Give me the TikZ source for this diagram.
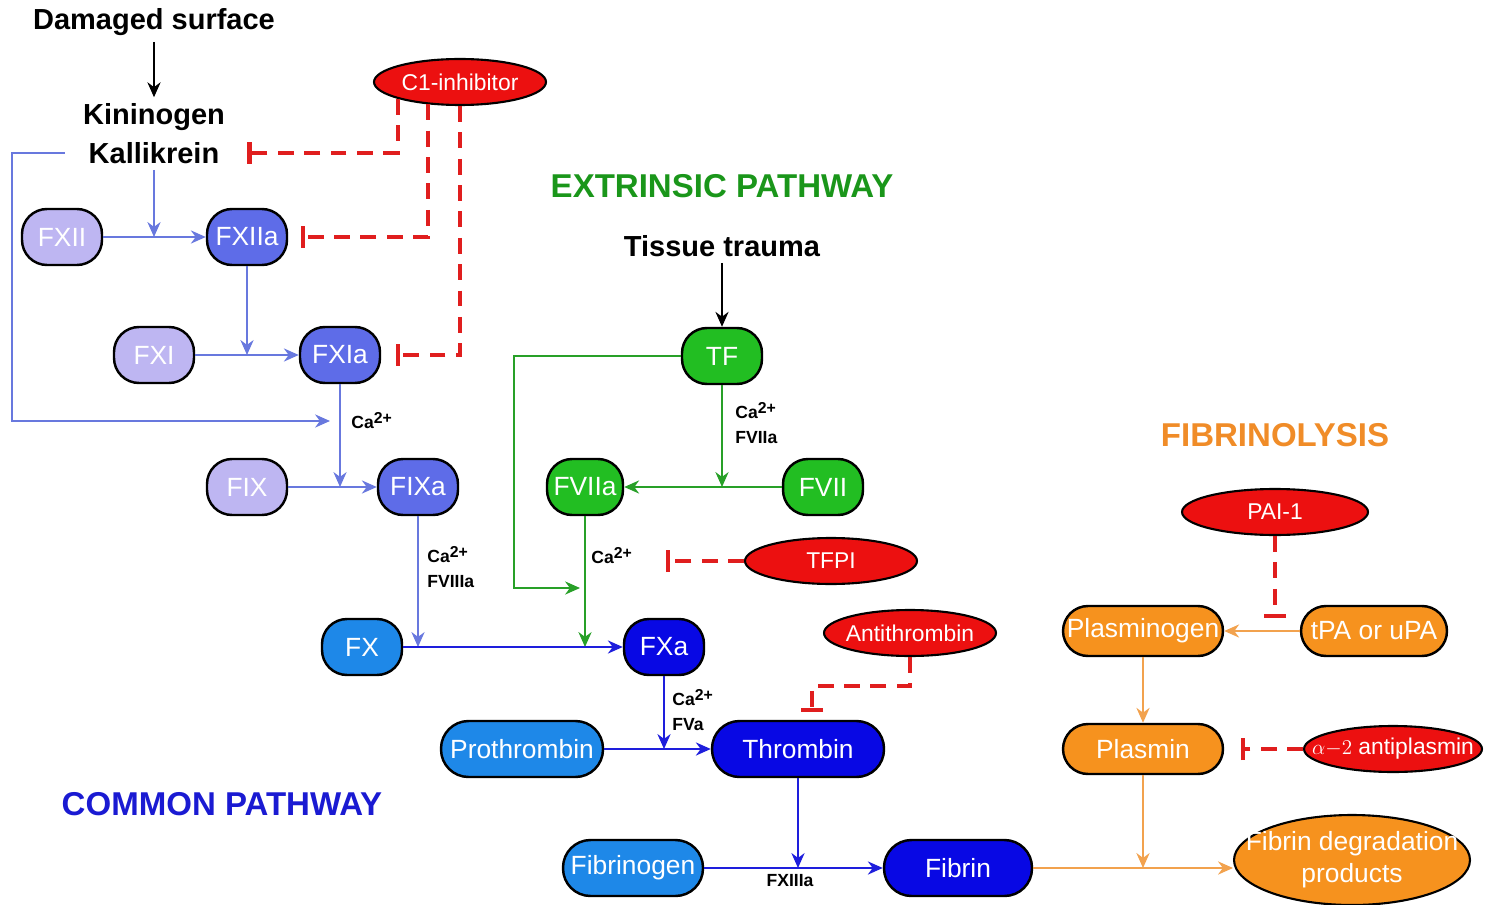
\documentclass[tikz,border=0pt]{standalone}
\usepackage{fontspec}
\setmainfont{Liberation Sans}
\usepackage{xcolor}
\usepackage{tikz}
\usetikzlibrary{arrows.meta}
\usetikzlibrary{shapes.geometric}
\usetikzlibrary{positioning}
\definecolor{lilas}{RGB}{190,182,242}
\definecolor{azulmed}{RGB}{94,108,232}
\definecolor{linhaint}{RGB}{104,120,222}
\definecolor{azulfx}{RGB}{30,136,232}
\definecolor{azulesc}{RGB}{8,8,228}
\definecolor{linhacom}{RGB}{30,30,220}
\definecolor{titazul}{RGB}{26,26,210}
\definecolor{verde}{RGB}{34,190,34}
\definecolor{linhaverde}{RGB}{40,160,40}
\definecolor{titverde}{RGB}{26,150,26}
\definecolor{laranja}{RGB}{246,146,30}
\definecolor{linhalar}{RGB}{242,162,78}
\definecolor{titlar}{RGB}{240,140,40}
\definecolor{vermelho}{RGB}{236,16,16}
\definecolor{tracejado}{RGB}{224,30,30}
\newcommand{\encaixa}[1]{\makebox[0pt]{#1}}
\newcommand{\calcio}{Ca\raisebox{0.55ex}{\fontsize{9}{9}\selectfont 2+}}
\tikzset{
  fator/.style={draw, line width=1.4pt, rounded corners=0.5cm, minimum width=#1, minimum height=1.12cm, inner sep=1pt, text=white, font=\fontsize{15}{18}\selectfont},
  fator/.default=1.6cm,
  fibrino/.style={fator=#1, fill=laranja, minimum height=1.0cm, rounded corners=0.5cm},
  inibidor/.style={draw, ellipse, line width=1.2pt, fill=vermelho, minimum width=#1, minimum height=0.92cm, inner sep=0pt, text=white, font=\fontsize{13}{15}\selectfont},
  seta/.style={-{Stealth[length=8.5pt, width=7.5pt]}, line width=1.1pt},
  bloqueio/.style={-{Bar[width=0.44cm]}, draw=tracejado, line width=2.3pt, dash pattern=on 9pt off 6pt},
  rotulo/.style={font=\bfseries\fontsize{10}{14}\selectfont, align=left, inner sep=0pt},
  titulo/.style={font=\bfseries\fontsize{18.8}{22}\selectfont},
  texto/.style={font=\bfseries\fontsize{16.5}{19}\selectfont},
}

\begin{document}
\begin{tikzpicture}[x=0.02cm, y=-0.02cm]
  \useasboundingbox (0,0) rectangle (1486,905);
  % intrinsic pathway
  \node[texto] (dano) at (154,22) {Damaged surface};
  \node[texto] (kin) at (154,117) {Kininogen};
  \node[texto] (kal) at (154,153) {Kallikrein};
  \node[fator, fill=lilas] (FXII) at (62,237) {FXII};
  \node[fator, fill=azulmed] (FXIIa) at (247,237) {FXIIa};
  \node[fator, fill=lilas] (FXI) at (154,355) {FXI};
  \node[fator, fill=azulmed] (FXIa) at (340,355) {FXIa};
  \node[fator, fill=lilas] (FIX) at (247,487) {FIX};
  \node[fator, fill=azulmed] (FIXa) at (418,487) {FIXa};
  \node[inibidor=3.44cm] (C1) at (460,82) {\encaixa{C1-inhibitor}};
  \node[rotulo, anchor=west] (caXI) at (351,421) {\calcio};
  \node[rotulo, anchor=west] (caIX) at (427,567) {\calcio\\FVIIIa};
  \coordinate (jI) at (330,421);
  \draw[seta] (dano) -- (kin);
  \draw[seta, linhaint] (kal) -- (kal |- FXII);
  \draw[seta, linhaint] (FXII) -- (FXIIa);
  \draw[seta, linhaint] (FXIIa) -- (FXIIa |- FXI);
  \draw[seta, linhaint] (FXI) -- (FXIa);
  \draw[seta, linhaint] ([xshift=-0.36cm]kal.west) -- ++(-53,0) |- (jI);
  \draw[seta, linhaint] (FXIa) -- (FXIa |- FIX);
  \draw[seta, linhaint] (FIX) -- (FIXa);
  \draw[bloqueio] (C1.195) |- ([xshift=0.44cm]kal.east);
  \draw[bloqueio] (C1.215) |- ([xshift=0.26cm]FXIIa.east);
  \draw[bloqueio] (C1.south) |- ([xshift=0.3cm]FXIa.east);
  % extrinsic pathway
  \node[titulo, text=titverde] (ext) at (722,186) {EXTRINSIC PATHWAY};
  \node[texto] (trauma) at (722,246) {Tissue trauma};
  \node[fator, fill=verde] (TF) at (722,356) {TF};
  \node[fator, fill=verde] (FVII) at (823,487) {FVII};
  \node[fator=1.52cm, fill=verde] (FVIIa) at (585,487) {FVIIa};
  \node[inibidor=3.44cm] (TFPI) at (831,561) {\encaixa{TFPI}};
  \node[rotulo, anchor=west] (caTF) at (735,423) {\calcio\\FVIIa};
  \node[rotulo, anchor=west] (caVII) at (591,556) {\calcio};
  \coordinate (jE) at (580,588);
  \coordinate (alvoTFPI) at (666,561);
  \draw[seta] (trauma) -- (TF);
  \draw[seta, linhaverde] (TF) -- (TF |- FVII);
  \draw[seta, linhaverde] (FVII) -- (FVIIa);
  \draw[seta, linhaverde] (TF.west) -- ++(-167,0) |- (jE);
  \draw[bloqueio] (TFPI) -- (alvoTFPI);
  % common pathway
  \node[titulo, text=titazul] (com) at (222,804) {COMMON PATHWAY};
  \node[fator, fill=azulfx] (FX) at (362,647) {FX};
  \node[fator, fill=azulesc] (FXa) at (664,647) {FXa};
  \node[fator=3.24cm, rounded corners=0.55cm, fill=azulfx] (proth) at (522,749) {Prothrombin};
  \node[fator=3.44cm, rounded corners=0.55cm, fill=azulesc] (thromb) at (798,749) {Thrombin};
  \node[fator=2.8cm, rounded corners=0.55cm, fill=azulfx] (fibrinog) at (633,868) {Fibrinogen};
  \node[fator=2.96cm, rounded corners=0.55cm, fill=azulesc] (fibrin) at (958,868) {Fibrin};
  \node[inibidor=3.44cm] (AT) at (910,633) {\encaixa{Antithrombin}};
  \node[rotulo, anchor=west] (caXa) at (672,710) {\calcio\\FVa};
  \node[rotulo] (fxiii) at (790,881) {FXIIIa};
  \draw[seta, linhaint] (FIXa) -- (FIXa |- FX);
  \draw[seta, linhaverde] (FVIIa) -- (FVIIa |- FXa);
  \draw[seta, linhacom] (FX) -- (FXa);
  \draw[seta, linhacom] (FXa) -- (FXa |- thromb);
  \draw[seta, linhacom] (proth) -- (thromb);
  \draw[seta, linhacom] (thromb) -- (thromb |- fibrin);
  \draw[seta, linhacom] (fibrinog) -- (fibrin);
  \draw[bloqueio] (AT.south) -- ++(0,29) -| ([xshift=0.28cm, yshift=0.16cm]thromb.north);
  % fibrinolysis
  \node[titulo, text=titlar] (fib) at (1275,435) {FIBRINOLYSIS};
  \node[inibidor=3.72cm] (PAI) at (1275,512) {\encaixa{PAI-1}};
  \node[fibrino=3.2cm] (plg) at (1143,631) {Plasminogen};
  \node[fibrino=2.92cm] (tpa) at (1374,631) {tPA or uPA};
  \node[fibrino=3.2cm] (plasmin) at (1143,749) {Plasmin};
  \node[inibidor=3.56cm] (a2) at (1393,749) {\encaixa{$\alpha{-}2$ antiplasmin}};
  \node[inibidor=4.72cm, minimum height=1.8cm, fill=laranja, font=\fontsize{15}{18}\selectfont] (fdp) at (1352,860) {\encaixa{\begin{tabular}{@{}c@{}}Fibrin degradation\\products\end{tabular}}};
  \coordinate (alvoPAI) at (1275,618);
  \draw[seta, linhalar] (tpa) -- (plg);
  \draw[seta, linhalar] (plg) -- (plasmin);
  \draw[seta, linhalar] (plasmin) -- (plasmin |- fibrin);
  \draw[seta, linhalar] (fibrin) -- (fibrin -| fdp.west);
  \draw[bloqueio] (PAI) -- (alvoPAI);
  \draw[bloqueio] (a2) -- ([xshift=0.34cm]plasmin.east);
\end{tikzpicture}
\end{document}
